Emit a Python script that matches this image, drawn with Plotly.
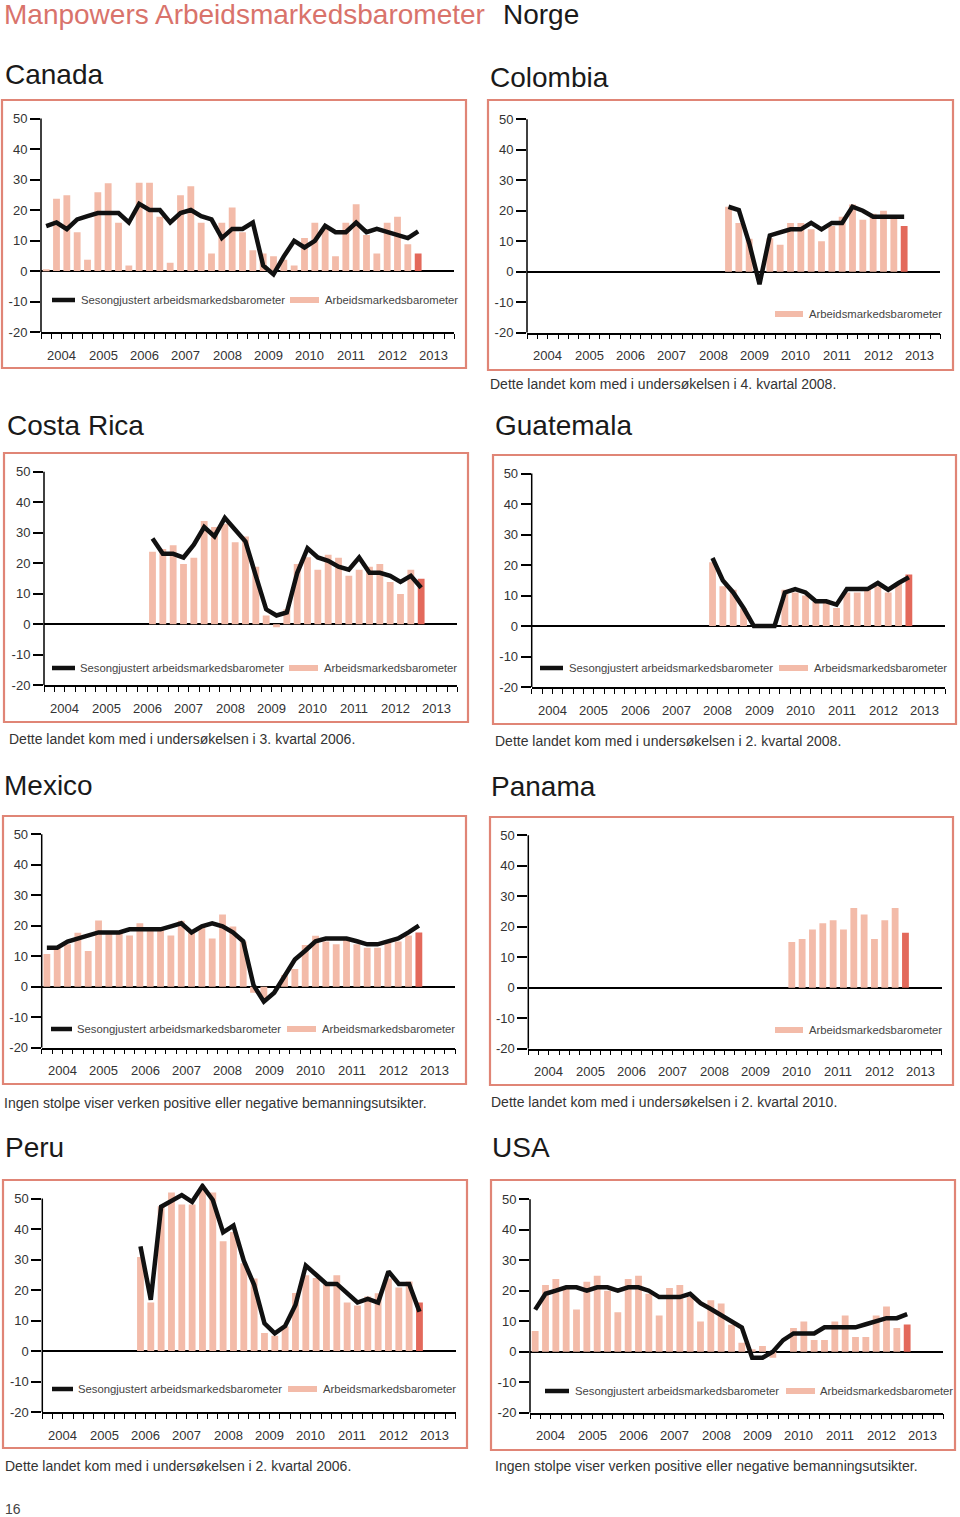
import plotly.graph_objects as go

W = 960
REF_H = 1517      # target picture height
FIG_H = 1525      # rendered height (picture is compressed vertically by ~0.5%)
FONT = "Liberation Sans"

# ---------------- data ----------------
years = [2004, 2005, 2006, 2007, 2008, 2009, 2010, 2011, 2012, 2013]
yticks = [-20, -10, 0, 10, 20, 30, 40, 50]

canada_start = "2004Q1"
canada_bars = [0.5, 23.7, 24.8, 12.7, 3.7, 25.8, 28.8, 15.8, 1.8, 28.9, 28.9, 17.8, 2.7,
               24.8, 27.8, 15.8, 5.7, 15.8, 20.8, 12.7, 6.8, 5.7, 4.8, 3.7, 1.8, 10.8,
               15.8, 13.8, 4.8, 15.8, 21.9, 11.8, 5.7, 15.8, 17.8, 8.8, 5.7]
canada_line = [14.7, 15.9, 13.7, 16.9, 18.0, 19.0, 19.0, 19.0, 15.9, 22.0, 20.0, 20.0, 15.9,
               19.0, 20.0, 18.0, 16.9, 10.8, 13.8, 13.8, 15.9, 1.8, -1.1, 4.8, 9.9, 7.7,
               9.9, 14.8, 12.7, 12.7, 15.9, 12.7, 13.8, 12.7, 11.8, 10.8, 13.0]

colombia_start = "2008Q4"
colombia_bars = [21.3, 16.0, 10.8, 0, 11.0, 8.8, 16.0, 16.0, 13.9, 10.0, 15.0, 18.0,
                 22.0, 17.0, 19.0, 20.0, 18.0, 15.0]
colombia_line = [21.3, 20.2, 9.4, -4.1, 11.9, 12.9, 13.9, 13.9, 16.0, 13.9, 16.0, 16.0,
                 21.3, 20.0, 18.0, 18.0, 18.0, 18.0]

costarica_start = "2006Q3"
costarica_bars = [23.8, 24.7, 25.9, 19.8, 21.8, 33.9, 31.9, 33.0, 26.9, 28.8, 18.9, 2.9,
                  -1.0, 4.9, 19.8, 22.0, 17.9, 22.8, 21.8, 15.9, 17.9, 18.9, 19.8, 13.9,
                  9.9, 17.9, 14.9]
costarica_line = [28.1, 23.1, 23.1, 21.9, 26.1, 31.9, 28.8, 34.9, 31.0, 27.1, 15.9, 4.9,
                  2.9, 3.9, 16.8, 24.9, 21.9, 20.8, 18.9, 17.9, 21.9, 16.9, 16.9, 15.9,
                  13.9, 15.9, 12.0]

guatemala_start = "2008Q2"
guatemala_bars = [20.9, 13.0, 11.9, 5.8, 0, 0, 0, 11.9, 11.0, 10.0, 7.9, 7.9, 5.9, 11.0,
                  11.0, 11.9, 13.0, 11.0, 14.0, 16.9]
guatemala_line = [22.3, 14.9, 11.0, 5.9, 0, 0, 0, 11.0, 12.1, 11.0, 8.1, 8.1, 7.0, 12.1,
                  12.1, 12.1, 14.1, 11.9, 14.1, 16.0]

mexico_start = "2004Q1"
mexico_bars = [10.7, 12.6, 13.9, 17.7, 11.7, 21.7, 17.7, 17.7, 16.8, 20.8, 18.7, 18.7, 16.8,
               21.6, 17.7, 19.7, 15.8, 23.7, 19.7, 14.8, -2.0, -4.0, 0, 3.8, 5.8, 13.7,
               16.7, 14.8, 13.9, 15.8, 13.9, 12.8, 12.8, 14.8, 14.8, 16.8, 17.8]
mexico_line = [12.8, 12.8, 14.8, 15.8, 16.8, 17.8, 17.8, 17.8, 18.8, 18.8, 18.8, 18.8, 19.8,
               20.8, 17.8, 19.8, 20.8, 19.8, 17.8, 14.9, 0.5, -4.9, -2.0, 3.5, 8.9, 11.8,
               14.9, 15.8, 15.8, 15.8, 14.9, 13.9, 13.9, 14.9, 15.8, 17.8, 20.0]

panama_start = "2010Q2"
panama_bars = [15.0, 16.0, 19.1, 21.1, 22.1, 19.1, 26.1, 24.0, 16.0, 22.1, 26.1, 18.0]
panama_line = []

peru_start = "2006Q2"
peru_bars = [30.8, 15.9, 47.5, 52.0, 48.0, 48.0, 53.0, 52.0, 36.0, 39.0, 28.8, 23.8, 5.9,
             5.0, 8.0, 19.0, 24.8, 23.9, 21.9, 24.8, 15.9, 14.9, 17.9, 18.9, 23.8, 20.8,
             22.8, 15.9]
peru_line = [34.3, 16.8, 47.3, 49.1, 51.1, 48.9, 54.1, 49.5, 38.9, 41.1, 29.6, 21.7, 9.1,
             5.8, 8.2, 15.1, 28.0, 25.0, 22.0, 22.0, 19.0, 15.9, 17.1, 15.9, 26.1, 22.0,
             22.0, 12.9]

usa_start = "2004Q1"
usa_bars = [6.8, 21.9, 23.8, 21.0, 13.8, 22.9, 24.9, 20.0, 12.9, 23.8, 24.9, 19.0, 11.9,
            20.9, 21.9, 17.9, 9.9, 16.9, 15.8, 8.8, 2.9, 0.8, 1.9, -2.0, 0, 7.8, 9.9, 3.8,
            3.8, 9.9, 11.9, 4.8, 4.8, 11.9, 14.8, 7.8, 8.9]
usa_line = [13.8, 19.0, 20.0, 21.1, 21.1, 20.0, 21.1, 21.1, 20.0, 21.1, 21.1, 20.0, 17.9,
            17.9, 17.9, 19.0, 15.9, 14.0, 11.9, 9.9, 7.9, -2.0, -2.0, 0, 3.8, 6.0, 6.0,
            6.0, 8.0, 8.0, 8.0, 8.0, 9.0, 10.0, 11.0, 11.0, 12.3]

legend_line_text = "Sesongjustert arbeidsmarkedsbarometer"
legend_bar_text = "Arbeidsmarkedsbarometer"

panels = [
    dict(name="Canada", start=canada_start, bars=canada_bars, line=canada_line, note=""),
    dict(name="Colombia", start=colombia_start, bars=colombia_bars, line=colombia_line,
         note="Dette landet kom med i undersøkelsen i 4. kvartal 2008."),
    dict(name="Costa Rica", start=costarica_start, bars=costarica_bars, line=costarica_line,
         note="Dette landet kom med i undersøkelsen i 3. kvartal 2006."),
    dict(name="Guatemala", start=guatemala_start, bars=guatemala_bars, line=guatemala_line,
         note="Dette landet kom med i undersøkelsen i 2. kvartal 2008."),
    dict(name="Mexico", start=mexico_start, bars=mexico_bars, line=mexico_line,
         note="Ingen stolpe viser verken positive eller negative bemanningsutsikter."),
    dict(name="Panama", start=panama_start, bars=panama_bars, line=panama_line,
         note="Dette landet kom med i undersøkelsen i 2. kvartal 2010."),
    dict(name="Peru", start=peru_start, bars=peru_bars, line=peru_line,
         note="Dette landet kom med i undersøkelsen i 2. kvartal 2006."),
    dict(name="USA", start=usa_start, bars=usa_bars, line=usa_line,
         note="Ingen stolpe viser verken positive eller negative bemanningsutsikter."),
]

# ---------------- geometry (pixels in the target picture) ----------------
geom = [
    dict(box=(2, 100, 466, 368), ax=41, zero=271, title=(3, 75), note=None,
         leg=dict(line=(52, 75), text1=79, rect=(290, 319), text2=323, y=300)),
    dict(box=(488, 100, 953, 370), ax=527, zero=271.7, title=(488, 78), note=(488, 384),
         leg=dict(line=None, rect=(775, 803), text2=807, y=314)),
    dict(box=(4, 453, 468, 722), ax=44, zero=624.3, title=(5, 425), note=(7, 739),
         leg=dict(line=(52, 75), text1=78, rect=(289, 318), text2=322, y=668)),
    dict(box=(493, 455, 956, 724), ax=531.7, zero=626, title=(493, 425), note=(493, 741),
         leg=dict(line=(540, 563), text1=567, rect=(779, 808), text2=812, y=668)),
    dict(box=(3, 816, 466, 1084), ax=41.7, zero=986.7, title=(2, 785), note=(2, 1103),
         leg=dict(line=(51, 72), text1=75, rect=(287, 316), text2=320, y=1029)),
    dict(box=(490, 817, 953, 1085), ax=528.3, zero=987.7, title=(489, 786), note=(489, 1102),
         leg=dict(line=None, rect=(775, 803), text2=807, y=1030)),
    dict(box=(3, 1180, 467, 1448), ax=42.3, zero=1351, title=(3, 1147), note=(3, 1466),
         leg=dict(line=(52, 73), text1=76, rect=(288, 317), text2=321, y=1389)),
    dict(box=(491, 1180, 955, 1450), ax=530, zero=1351.7, title=(490, 1147), note=(493, 1466),
         leg=dict(line=(545, 569), text1=573, rect=(786, 815), text2=818, y=1391)),
]

S = 3.05           # px per unit
QW = 41.333 / 4    # px per quarter
YMIN, YMAX = -20, 55
BAR = "#F3BBA9"
BAR_LAST = "#E3695B"
BOX = "#E08576"


def qindex(label):
    y, q = label.split("Q")
    return (int(y) - years[0]) * 4 + int(q) - 1


def px(x):
    return x / W


def py(y):
    return 1 - y / REF_H


fig = go.Figure()
layout = dict(width=W, height=FIG_H, margin=dict(l=0, r=0, t=0, b=0),
              paper_bgcolor="white", plot_bgcolor="white", showlegend=False,
              font=dict(family=FONT, color="#333"))
shapes = []
annotations = []

for i, (p, g) in enumerate(zip(panels, geom), start=1):
    sfx = "" if i == 1 else str(i)
    xr, yr = "x" + sfx, "y" + sfx
    x0 = g["ax"]
    x1 = x0 + 40 * QW
    ybot = g["zero"] + (0 - YMIN) * S
    ytop = g["zero"] - YMAX * S
    layout["xaxis" + sfx] = dict(
        domain=[px(x0), px(x1)], anchor=yr, range=[-0.5, 39.5],
        tickmode="array", tickvals=[k * 4 - 0.5 for k in range(11)],
        ticktext=[""] * 11, ticks="outside", ticklen=13, tickwidth=1.5, tickcolor="black",
        showline=True, linecolor="black", linewidth=1.5, showgrid=False, zeroline=False,
        minor=dict(tickmode="array", tickvals=[k - 0.5 for k in range(41)],
                   ticks="outside", ticklen=5, tickwidth=1.2, tickcolor="black", showgrid=False),
        fixedrange=True)
    layout["yaxis" + sfx] = dict(
        domain=[py(ybot), py(ytop)], anchor=xr, range=[YMIN, YMAX],
        tickmode="array", tickvals=yticks, ticktext=[str(v) for v in yticks],
        ticks="outside", ticklen=10, tickwidth=1.5,
        tickcolor="black", tickfont=dict(size=13, color="#333"), showline=False,
        showgrid=False, zeroline=True, zerolinecolor="black", zerolinewidth=1.6,
        fixedrange=True)

    s = qindex(p["start"])
    xb = list(range(s, s + len(p["bars"])))
    colors = [BAR] * (len(p["bars"]) - 1) + [BAR_LAST]
    fig.add_trace(go.Bar(x=xb, y=p["bars"], marker=dict(color=colors, line=dict(width=0)),
                         width=0.66, xaxis=xr, yaxis=yr, hoverinfo="x+y"))
    if p["line"]:
        xl = list(range(s, s + len(p["line"])))
        fig.add_trace(go.Scatter(x=xl, y=p["line"], mode="lines",
                                 line=dict(color="#111", width=4.5),
                                 xaxis=xr, yaxis=yr))

    # y axis line from -20 to 50
    shapes.append(dict(type="line", xref=xr + " domain", yref=yr, x0=0, x1=0,
                       y0=yticks[0], y1=yticks[-1], line=dict(color="black", width=1.5)))
    # box
    bx0, by0, bx1, by1 = g["box"]
    shapes.append(dict(type="rect", xref="paper", yref="paper", x0=px(bx0), x1=px(bx1),
                       y0=py(by1), y1=py(by0), line=dict(color=BOX, width=2.2)))
    # year labels
    for yv in years:
        annotations.append(dict(xref=xr, yref="paper", x=(yv - years[0]) * 4 + 1.5,
                                y=py(ybot + 23), text=str(yv), showarrow=False,
                                yanchor="middle", font=dict(size=13, color="#333")))
    # title
    tx, ty = g["title"]
    annotations.append(dict(xref="paper", yref="paper", x=px(tx), y=py(ty), text=p["name"],
                            showarrow=False, xanchor="left", yanchor="middle",
                            font=dict(size=28, color="#1a1a1a")))
    # note
    if g["note"] and p["note"]:
        nx, ny = g["note"]
        annotations.append(dict(xref="paper", yref="paper", x=px(nx), y=py(ny), text=p["note"],
                                showarrow=False, xanchor="left", yanchor="middle",
                                font=dict(size=14, color="#333")))
    # legend
    lg = g["leg"]
    ly = lg["y"]
    if lg["line"] and p["line"]:
        lx0, lx1 = lg["line"]
        shapes.append(dict(type="line", xref="paper", yref="paper", x0=px(lx0), x1=px(lx1),
                           y0=py(ly), y1=py(ly), line=dict(color="#111", width=4.5)))
        annotations.append(dict(xref="paper", yref="paper", x=px(lg["text1"]), y=py(ly),
                                text=legend_line_text, showarrow=False, xanchor="left",
                                yanchor="middle", font=dict(size=11.3, color="#444")))
    rx0, rx1 = lg["rect"]
    shapes.append(dict(type="rect", xref="paper", yref="paper", x0=px(rx0), x1=px(rx1),
                       y0=py(ly + 3), y1=py(ly - 3), fillcolor=BAR, line=dict(width=0)))
    annotations.append(dict(xref="paper", yref="paper", x=px(lg["text2"]), y=py(ly),
                            text=legend_bar_text, showarrow=False, xanchor="left",
                            yanchor="middle", font=dict(size=11.3, color="#444")))

# page title
annotations.append(dict(xref="paper", yref="paper", x=px(2), y=py(15),
                        text="Manpowers Arbeidsmarkedsbarometer", showarrow=False,
                        xanchor="left", yanchor="middle", font=dict(size=28, color="#D9736B")))
annotations.append(dict(xref="paper", yref="paper", x=px(501), y=py(15), text="Norge",
                        showarrow=False, xanchor="left", yanchor="middle",
                        font=dict(size=28, color="#1a1a1a")))
annotations.append(dict(xref="paper", yref="paper", x=px(3), y=py(1509), text="16",
                        showarrow=False, xanchor="left", yanchor="middle",
                        font=dict(size=14, color="#444")))

layout["shapes"] = shapes
layout["annotations"] = annotations
fig.update_layout(**layout)
fig.write_html("out.html", config={"displayModeBar": False},
               post_script="document.body.style.margin='0';document.body.style.overflow='hidden';")
